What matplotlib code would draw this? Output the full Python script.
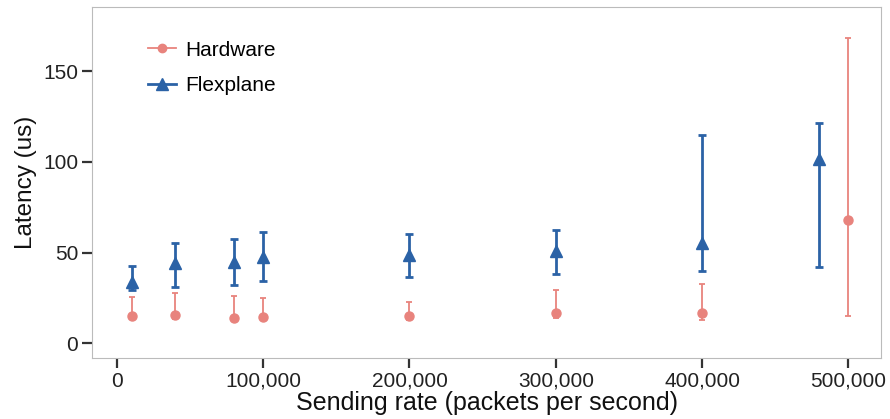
import matplotlib
matplotlib.use("Agg")
import matplotlib.pyplot as plt
import numpy as np

plt.rcParams['font.family'] = ['Liberation Sans', 'DejaVu Sans']

# Data
hw_rate = [10000, 40000, 80000, 100000, 200000, 300000, 400000, 500000]
hw_mean = [15.3, 15.4, 14.1, 14.6, 15.0, 16.9, 16.9, 67.9]
hw_low = [13.5, 13.5, 13.0, 13.0, 13.0, 13.8, 12.8, 15.0]
hw_high = [25.5, 27.5, 26.1, 25.0, 22.8, 29.5, 32.5, 168.4]

fp_rate = [10000, 40000, 80000, 100000, 200000, 300000, 400000, 480000]
fp_mean = [33.9, 44.1, 45.0, 47.4, 48.7, 51.0, 55.1, 101.4]
fp_low = [29.4, 30.9, 32.1, 34.3, 36.4, 38.2, 40.0, 42.0]
fp_high = [42.8, 55.1, 57.6, 61.2, 60.2, 62.4, 114.9, 121.5]

x_ticks = [0, 100000, 200000, 300000, 400000, 500000]
x_ticklabels = ['0', '100,000', '200,000', '300,000', '400,000', '500,000']
y_ticks = [0, 50, 100, 150]

hw_color = '#E8837D'
fp_color = '#2B62A6'

fig = plt.figure(figsize=(8.9, 4.19), dpi=100)
ax = fig.add_axes([92/890, 1-357.7/419, (881-92)/890, (357.7-7)/419])

hw_mean_a = np.array(hw_mean)
hw_err = [hw_mean_a - np.array(hw_low), np.array(hw_high) - hw_mean_a]
fp_mean_a = np.array(fp_mean)
fp_err = [fp_mean_a - np.array(fp_low), np.array(fp_high) - fp_mean_a]

ax.errorbar(hw_rate, hw_mean, yerr=hw_err, fmt='o', color=hw_color,
            ecolor=hw_color, elinewidth=1.3, capsize=2.5, capthick=1.3,
            markersize=6.5, linestyle='none', zorder=3)
ax.errorbar(fp_rate, fp_mean, yerr=fp_err, fmt='^', color=fp_color,
            ecolor=fp_color, elinewidth=2.0, capsize=3, capthick=2.0,
            markersize=9, linestyle='none', zorder=4)

# legend handles (line + marker)
h1, = ax.plot([], [], '-o', color=hw_color, markersize=6, linewidth=1.3)
h2, = ax.plot([], [], '-^', color=fp_color, markersize=9, linewidth=2.0)
leg = ax.legend([h1, h2], ['Hardware', 'Flexplane'], loc='upper left',
                bbox_to_anchor=(0.055, 0.94), frameon=False, fontsize=15,
                handlelength=1.35, handletextpad=0.45, labelspacing=0.8,
                borderaxespad=0.2)

ax.set_xlim(-17000, 522300)
ax.set_ylim(-7.9, 185.3)
ax.set_xticks(x_ticks)
ax.set_xticklabels(x_ticklabels)
ax.set_yticks(y_ticks)

for sp in ax.spines.values():
    sp.set_color('#BBBBBB')
    sp.set_linewidth(0.8)

ax.tick_params(axis='both', direction='out', length=7, width=1.6,
               color='#333333', labelsize=15, labelcolor='#222222', pad=3)

ax.set_xlabel('Sending rate (packets per second)', fontsize=18,
              color='#111111', labelpad=0.5)
ax.set_ylabel('Latency (us)', fontsize=17.5, color='#111111', labelpad=4)

fig.savefig('out.png', dpi=100)
